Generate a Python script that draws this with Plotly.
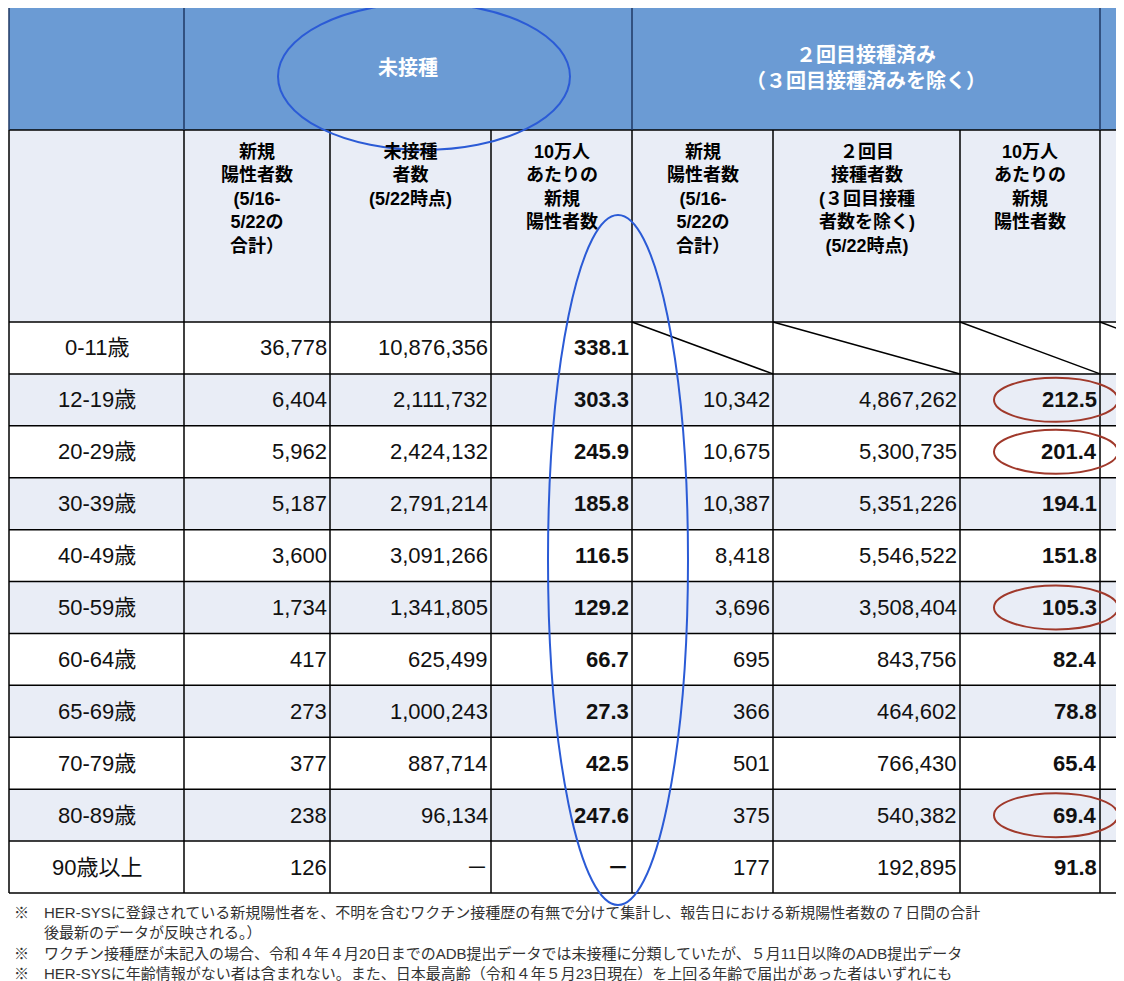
import plotly.graph_objects as go

FONT = "Liberation Sans, Noto Sans CJK JP"

ages = ["0-11歳", "12-19歳", "20-29歳", "30-39歳", "40-49歳", "50-59歳",
        "60-64歳", "65-69歳", "70-79歳", "80-89歳", "90歳以上"]
unvax_new = ["36,778", "6,404", "5,962", "5,187", "3,600", "1,734", "417", "273", "377", "238", "126"]
unvax_pop = ["10,876,356", "2,111,732", "2,424,132", "2,791,214", "3,091,266", "1,341,805",
             "625,499", "1,000,243", "887,714", "96,134", "－"]
unvax_rate = ["338.1", "303.3", "245.9", "185.8", "116.5", "129.2", "66.7", "27.3", "42.5", "247.6", "－"]
dose2_new = ["", "10,342", "10,675", "10,387", "8,418", "3,696", "695", "366", "501", "375", "177"]
dose2_pop = ["", "4,867,262", "5,300,735", "5,351,226", "5,546,522", "3,508,404",
             "843,756", "464,602", "766,430", "540,382", "192,895"]
dose2_rate = ["", "212.5", "201.4", "194.1", "151.8", "105.3", "82.4", "78.8", "65.4", "69.4", "91.8"]

group_headers = ["未接種", "２回目接種済み<br>（３回目接種済みを除く）"]
col_headers = ["", "新規<br>陽性者数<br>(5/16-<br>5/22の<br>合計）", "未接種<br>者数<br>(5/22時点)",
               "10万人<br>あたりの<br>新規<br>陽性者数",
               "新規<br>陽性者数<br>(5/16-<br>5/22の<br>合計）",
               "２回目<br>接種者数<br>(３回目接種<br>者数を除く)<br>(5/22時点)",
               "10万人<br>あたりの<br>新規<br>陽性者数"]
footnotes = [
    "※　HER-SYSに登録されている新規陽性者を、不明を含むワクチン接種歴の有無で分けて集計し、報告日における新規陽性者数の７日間の合計",
    "　　後最新のデータが反映される。）",
    "※　ワクチン接種歴が未記入の場合、令和４年４月20日までのADB提出データでは未接種に分類していたが、５月11日以降のADB提出データ",
    "※　HER-SYSに年齢情報がない者は含まれない。また、日本最高齢（令和４年５月23日現在）を上回る年齢で届出があった者はいずれにも",
]

columns = [ages, unvax_new, unvax_pop, unvax_rate, dose2_new, dose2_pop, dose2_rate]
bold_cols = {3, 6}

xe = [9, 184, 330, 491, 632, 773, 960, 1100, 1240]
y_head1, y_head2, y_data = 5, 130, 322
row_h = (893 - 322) / len(ages)

shapes, ann = [], []
line = dict(color="black", width=1.5)

shapes.append(dict(type="rect", x0=xe[0], x1=1240, y0=y_head1, y1=y_head2,
                   fillcolor="#6b9bd4", line=dict(width=0), layer="below"))
shapes.append(dict(type="rect", x0=xe[0], x1=1240, y0=y_head2, y1=y_data,
                   fillcolor="#e9edf6", line=dict(width=0), layer="below"))
for i in range(len(ages)):
    if i % 2 == 1:
        shapes.append(dict(type="rect", x0=xe[0], x1=1240, y0=y_data + i * row_h,
                           y1=y_data + (i + 1) * row_h, fillcolor="#e9edf6",
                           line=dict(width=0), layer="below"))

for y in [y_head2, y_data] + [y_data + (i + 1) * row_h for i in range(len(ages))]:
    shapes.append(dict(type="line", x0=xe[0], x1=1240, y0=y, y1=y, line=line))
for j, x in enumerate(xe[:-1]):
    top = y_head1 if j in (0, 1, 4, 7) else y_head2
    col = "#1f3864" if top == y_head1 else "black"
    shapes.append(dict(type="line", x0=x, x1=x, y0=top, y1=y_head2, line=dict(color=col, width=1.5)))
    shapes.append(dict(type="line", x0=x, x1=x, y0=y_head2, y1=893, line=line))

for j in (4, 5, 6, 7):
    shapes.append(dict(type="line", x0=xe[j], x1=xe[j + 1], y0=y_data, y1=y_data + row_h, line=line))

ann.append(dict(x=(xe[1] + xe[4]) / 2, y=(y_head1 + y_head2) / 2, text="<b>" + group_headers[0] + "</b>",
                font=dict(size=20, color="white")))
ann.append(dict(x=(xe[4] + xe[7]) / 2, y=(y_head1 + y_head2) / 2, text="<b>" + group_headers[1] + "</b>",
                font=dict(size=20, color="white")))

for j, h in enumerate(col_headers):
    if h:
        ann.append(dict(x=(xe[j] + xe[j + 1]) / 2, y=y_head2 + 10, yanchor="top",
                        text="<b>" + h + "</b>", font=dict(size=18, color="black")))

for j, col in enumerate(columns):
    for i, v in enumerate(col):
        if not v:
            continue
        yc = y_data + (i + 0.5) * row_h
        txt = "<b>" + v + "</b>" if j in bold_cols else v
        if j == 0:
            ann.append(dict(x=(xe[0] + xe[1]) / 2, y=yc, text=txt, font=dict(size=22, color="#111")))
        else:
            ann.append(dict(x=xe[j + 1] - 1, y=yc, xanchor="right", text=txt,
                            font=dict(size=22, color="#111")))

for k, t in enumerate(footnotes):
    ann.append(dict(x=12, y=912 + k * 20.5, xanchor="left", text=t, font=dict(size=15, color="#333")))

for a in ann:
    a.update(xref="x", yref="y", showarrow=False)
    a.setdefault("xanchor", "center")
    a.setdefault("yanchor", "middle")

blue = dict(color="#2b5bd6", width=2)
red = dict(color="#a0392b", width=2)
shapes.append(dict(type="circle", x0=278, x1=570, y0=3, y1=150, line=blue))
shapes.append(dict(type="circle", x0=548, x1=688, y0=215, y1=905, line=blue))
for i in (1, 2, 5, 9):
    yc = y_data + (i + 0.5) * row_h
    shapes.append(dict(type="circle", x0=994, x1=1118, y0=yc - 22, y1=yc + 22, line=red))

fig = go.Figure()
fig.update_layout(
    width=1124, height=981, margin=dict(l=0, r=0, t=0, b=0),
    paper_bgcolor="white", plot_bgcolor="white",
    xaxis=dict(range=[8, 1132], visible=False, fixedrange=True),
    yaxis=dict(range=[989, 8], visible=False, fixedrange=True),
    shapes=shapes, annotations=ann, font=dict(family=FONT),
    showlegend=False,
)
fig.write_html("out.html")
